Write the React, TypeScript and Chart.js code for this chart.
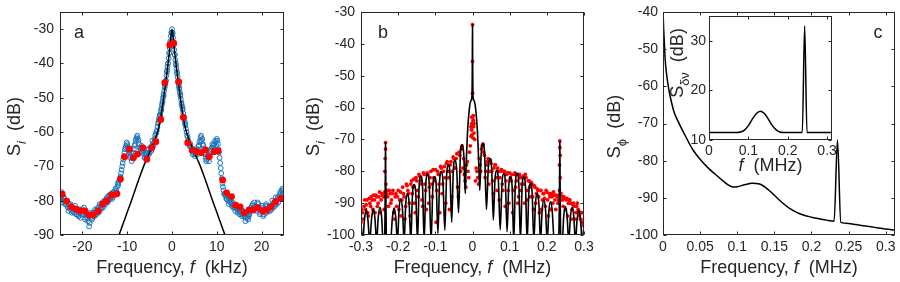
import React, { useEffect, useRef } from "react";
import { Chart, registerables } from "chart.js";
Chart.register(...registerables);

// ---------------- Panel a (kHz, dB) ----------------
const A_X_TICKS = [-20, -10, 0, 10, 20];
const A_Y_TICKS = [-90, -80, -70, -60, -50, -40, -30];
const A_BLUE_F_STEP = 0.25;
const A_BLUE1_F_START = -25;
const A_BLUE1_DB = [
  -78, -79, -78.5, -80, -79.5, -81, -80, -82, -81, -82.5, -81.5, -83, -82, -83.5, -82.5, -84,
  -83, -84.5, -83, -84, -82.5, -84, -83, -85, -84, -86, -87.5, -85, -84, -85, -83.5, -84.5,
  -83, -83.5, -82, -83, -81.5, -82, -80.5, -81.5, -80, -80.5, -79, -80, -78.5, -79, -78, -79,
  -77.5, -78, -77, -76, -75.5, -74, -73, -71, -69, -67, -65, -64, -63.5, -64.5, -66, -67,
  -68.5, -67, -65, -63.5, -62, -61, -62.5, -64.5, -65, -64, -65.5, -66.5, -67.5, -66.5, -66, -65,
  -66, -65, -64, -63.5, -63, -61, -60, -58.5, -57, -55, -54, -52, -50, -48, -46, -43.5,
  -41, -38.5, -35.5, -32, -30, -32.5, -36, -39, -41.5, -44, -46.5, -48.5, -50.5, -52.5, -54.5, -56,
  -58, -60, -61.5, -63, -64, -64.5, -65, -66, -65.5, -66.5, -65.5, -65, -64, -62.5, -61, -62,
  -64, -66, -67.5, -68, -67, -68.5, -66.5, -65, -63.5, -64, -65, -63, -62, -63.5, -66, -69,
  -72, -75, -77, -78, -78.5, -79.5, -80, -79.5, -80.5, -81, -80.5, -81.5, -82, -81.5, -82.5, -83,
  -82.5, -83.5, -83, -84, -83.5, -84.5, -85, -84, -85.5, -84, -83, -82.5, -81, -82, -81.5, -83,
  -82, -81, -82.5, -83.5, -82, -83, -84, -82.5, -81, -82.5, -83, -82, -81.5, -82.5, -81, -80.5,
  -81.5, -80, -79.5, -80.5, -78.5, -78, -77, -78, -77,
];
const A_BLUE2_F_START = -24.875;
const A_BLUE2_DB = [
  -79.5, -77.5, -80.5, -79, -81, -80, -81.5, -83, -82, -81, -83.5, -82, -83.5, -81.5, -84, -82.5,
  -84.5, -82.5, -85, -83.5, -84, -82, -85.5, -83.5, -85, -84.5, -86.5, -83.5, -85.5, -83.5, -84, -82.5,
  -84, -82.5, -83.5, -81, -82.5, -81, -82, -80, -81, -79.5, -80.5, -78.5, -79.5, -78, -79.5, -77.5,
  -78.5, -76.5, -77.5, -75, -74.5, -73.5, -72, -70, -68, -66, -64.5, -63, -64.5, -65.5, -67.5, -66,
  -67.5, -66, -64, -62.5, -61.5, -62, -63.5, -66, -64.5, -66, -64.5, -67.5, -66, -67.5, -65, -66.5,
  -64.5, -65.5, -62.5, -64, -62, -60.5, -59.5, -57.5, -56, -55.5, -53, -51, -49, -47, -45, -42.5,
  -40, -37, -33.5, -31, -31, -34, -37.5, -40, -43, -45, -47.5, -49.5, -51.5, -53.5, -55.5, -57,
  -59, -61, -62.5, -64, -63.5, -65.5, -66.5, -65, -67, -66, -66.5, -64, -63, -61.5, -62.5, -63.5,
  -65, -66.5, -68.5, -67, -67.5, -67, -65.5, -64.5, -64.5, -63.5, -62.5, -64, -62.5, -65, -67.5, -70.5,
  -73.5, -76, -78, -78.5, -79.5, -78.5, -81, -80, -79.5, -81.5, -82, -81, -83, -82, -83.5, -82,
  -84, -82.5, -84.5, -83, -84.5, -86, -83.5, -85, -84.5, -83.5, -82, -81.5, -82.5, -80.5, -82.5, -82,
  -80.5, -82, -84, -82.5, -81.5, -84.5, -83.5, -81.5, -83.5, -81.5, -82, -83, -82, -80, -82, -81,
  -79, -81, -79, -79.5, -77.5, -79, -76.5, -77,
];
const A_BLUE_PEAK_F_START = -2.875;
const A_BLUE_PEAK_DB = [
  -56.5, -55, -53.5, -51.5, -49.5, -46.5, -45, -42, -40, -37, -34, -31,
  -31.5, -34.5, -37.5, -40.5, -42.5, -45.5, -47, -49, -52, -53, -55.5, -57.5,
];
const A_RED_F = [
  -24.5, -23.5, -22.5, -21.4, -20.5, -19.4, -18.5, -17.6, -16.5, -15.5, -14.6, -13.5, -12.3,
  -11.5, -10.6, -9.5, -8.6, -7.7, -6.5, -5.6, -4.5, -3.6, -2.5, -1.6, -0.5, 0.4, 1.5, 2.5, 3.5,
  4.5, 5.5, 6.5, 7.5, 8.3, 9.4, 10.3, 11.3, 12.2, 13.3, 14.2, 15.2, 16.1, 17.2, 18.1, 19.1, 20.2,
  21.1, 22.1, 23.1, 24.3,
];
const A_RED_DB = [
  -78.1, -80.1, -81.8, -82.5, -83, -83, -84.2, -84.2, -83, -81, -80, -78.4, -78,
  -73.7, -67.2, -65, -67.5, -66.4, -64.6, -67.9, -64.6, -62.8, -56.3, -45.6, -34.6, -34.1, -45.4, -55.7, -63.1,
  -65.2, -65.7, -66, -65.2, -67.2, -65.7, -65.5, -74, -77.7, -78.8, -81.3, -81.8, -83.5, -82.7, -82.7, -82, -83,
  -82.7, -81.8, -80.3, -79.3,
];
const A_FIT_F = [-12.2, -11, -10, -9, -8, -7, -6, -5, -4, -3, -2.5, -2, -1.5, -1, -0.5, 0, 0.5, 1, 1.5, 2, 2.5, 3, 4, 5, 6, 7, 8, 9, 10, 11, 12.2];
const A_FIT_DB = [-91.4, -87, -83.4, -79.8, -76, -72.3, -68.9, -66, -62.8, -58.9, -55.5, -51.3, -46.4, -41.3, -35.7, -30, -35.7, -41.3, -46.4, -51.3, -55.5, -58.9, -62.8, -66, -68.9, -72.3, -76, -79.8, -83.4, -87, -91.4];

// ---------------- Panel b (MHz, dB) ----------------
const B_X_TICKS = [-0.3, -0.2, -0.1, 0, 0.1, 0.2, 0.3];
const B_Y_TICKS = [-100, -90, -80, -70, -60, -50, -40, -30];
const B_RED1_F_START = -0.3;
const B_RED2_F_START = -0.298;
const B_RED_F_STEP = 0.004;
const B_RED1_DB = [
  -96, -93, -91, -92, -89, -94, -90, -88, -92, -89,
  -87.5, -91, -88, -93, -87, -88, -86.5, -87, -88, -86,
  -90, -87, -93, -88, -91, -86, -89, -94, -85, -88,
  -91, -84.5, -87, -94, -83, -85, -90, -82, -86, -81,
  -83, -89, -80.5, -84, -92, -81, -85, -80, -88, -82,
  -79.5, -86, -81, -93, -79, -84, -78.5, -90, -77, -82,
  -78, -88, -75.5, -79, -76, -85, -74, -80, -72, -76,
  -83, -78, -80, -74, -66, -63, -65, -83, -80, -84,
  -78, -73, -71.5, -75, -80, -77, -84, -76.5, -80, -87,
  -78, -82, -79, -89, -80, -84, -80, -91, -81, -86,
  -80.5, -83, -93, -81, -85, -81, -88, -82, -84, -81.5,
  -90, -82, -86, -83, -88, -84, -92, -85, -87, -86,
  -93, -86, -89, -87, -91, -86.5, -94, -88, -87, -90,
  -87.5, -92, -88, -89, -87, -88, -91, -88.5, -89, -94,
  -89, -90, -92, -90, -95, -91, -92, -94, -93, -96,
  -95,
];
const B_RED2_DB = [
  -92, -95, -89, -90.5, -93, -88.5, -91, -89, -87.5, -93,
  -88, -90, -86.5, -89, -87.5, -92, -88, -86, -91, -87,
  -89, -86, -95, -87, -88, -92, -86.5, -89, -87, -95,
  -84, -86, -90, -84, -87, -82.5, -93, -83, -88, -81.5,
  -84, -91, -81, -86, -80.5, -90, -82, -84, -79.5, -83,
  -96, -80, -84, -78.5, -87, -80, -82, -77.5, -80, -92,
  -77, -80, -76, -79, -74.5, -88, -75, -73, -79, -81,
  -85, -77, -82, -72, -67, -64, -70, -79, -82, -76,
  -80, -72, -74, -82, -78, -76, -80, -77.5, -83, -79,
  -78, -86, -80, -82, -79.5, -86, -80, -83, -80.5, -90,
  -82, -81, -86, -80.5, -83, -90, -81, -86, -82, -84,
  -81, -89, -83, -85, -83.5, -88, -84.5, -90, -85.5, -88,
  -86, -92, -87, -88.5, -86, -89, -87, -92, -88, -86.5,
  -89, -87.5, -90, -88, -87, -89, -88, -92, -88.5, -90,
  -89, -95, -90.5, -91, -93, -90, -92.5, -95, -93, -97,
];
const B_RED_EXTRA_F = [0, 0, 0, -0.002, 0.002, -0.003, 0.003, -0.001, 0.001, -0.002, 0.002, 0.004, -0.004, -0.234, -0.234, -0.235, -0.236, -0.233, 0.235, 0.235, 0.236, 0.234, 0.236, 0.234];
const B_RED_EXTRA_DB = [-34, -45.5, -55.5, -63, -64, -67, -66, -68.5, -69.5, -65, -62.5, -68, -69, -71, -73, -76, -80, -84, -70.5, -72.5, -75, -78, -82, -86];
const B_FIT_F = [
  -0.3, -0.2955,
  -0.2905, -0.286, -0.2815, -0.2765,
  -0.2715, -0.267, -0.2625, -0.258,
  -0.2535, -0.249, -0.2445, -0.2405,
  -0.236, -0.2345, -0.234, -0.2335, -0.232,
  -0.2205,
  -0.2155, -0.211, -0.2065, -0.202,
  -0.1975, -0.193, -0.1885, -0.184,
  -0.1795, -0.175, -0.1705, -0.166,
  -0.1615, -0.157, -0.1525, -0.148,
  -0.1435, -0.139, -0.1345, -0.13,
  -0.1255, -0.121, -0.1165, -0.1115,
  -0.1065, -0.102, -0.0975, -0.093,
  -0.0885, -0.084, -0.0795, -0.0745,
  -0.0695, -0.065, -0.0605, -0.056,
  -0.0515, -0.047, -0.0425, -0.0375,
  -0.0325, -0.028, -0.0235, -0.0195,
  -0.017, -0.013, -0.009, -0.005, -0.0015, -0.0004, 0, 0.0004, 0.0015, 0.005, 0.009, 0.013, 0.017, 0.0195,
  0.0235, 0.028, 0.0325, 0.0375,
  0.0425, 0.047, 0.0515, 0.056,
  0.0605, 0.065, 0.0695, 0.0745,
  0.0795, 0.084, 0.0885, 0.093,
  0.0975, 0.102, 0.1065, 0.111,
  0.1155, 0.12, 0.1245, 0.129,
  0.1335, 0.138, 0.1425, 0.147,
  0.1515, 0.156, 0.1605, 0.165,
  0.1695, 0.174, 0.1785, 0.183,
  0.1875, 0.192, 0.1965, 0.201,
  0.2055, 0.21, 0.2145, 0.22,
  0.232, 0.2345, 0.235, 0.2355, 0.237, 0.2415,
  0.2455, 0.25, 0.2545, 0.259,
  0.2635, 0.268, 0.2725, 0.277,
  0.2815, 0.286, 0.2905, 0.2955, 0.3,
];
const B_FIT_DB = [
  -96, -102,
  -95, -92, -95, -102,
  -94.8, -91.8, -94.8, -102,
  -94.3, -91.3, -94.3, -102,
  -100, -80, -71, -80, -100,
  -102,
  -94.5, -91.5, -94.5, -102,
  -91.8, -88.8, -91.8, -102,
  -90, -87, -90, -102,
  -87.2, -84.2, -87.2, -102,
  -84.5, -81.5, -84.5, -102,
  -83.9, -80.9, -83.9, -102,
  -84.7, -81.7, -84.7, -99.5,
  -83.1, -80.1, -83.1, -98.5,
  -81, -78, -81, -96,
  -79.5, -76.5, -79.5, -93,
  -74.7, -71.7, -74.7, -87,
  -78, -67, -61, -58, -56.5, -45, -34, -45, -56.5, -58, -61, -67, -78, -86,
  -74.2, -71.2, -74.2, -92,
  -79, -76, -79, -95.3,
  -82.6, -79.6, -82.6, -98.4,
  -83.6, -80.6, -83.6, -99,
  -84.7, -81.7, -84.7, -102,
  -83.6, -80.6, -83.6, -102,
  -84.7, -81.7, -84.7, -102,
  -86.8, -83.8, -86.8, -102,
  -89.9, -86.9, -89.9, -102,
  -92, -89, -92, -102,
  -92.5, -89.5, -92.5, -102,
  -100, -80, -70.7, -80, -100, -102,
  -94.1, -91.1, -94.1, -102,
  -94.3, -91.3, -94.3, -102,
  -95.1, -92.1, -95.1, -102, -97,
];

// ---------------- Panel c (MHz, dB) ----------------
const C_X_TICKS = [0, 0.05, 0.1, 0.15, 0.2, 0.25, 0.3];
const C_Y_TICKS = [-100, -90, -80, -70, -60, -50, -40];
const C_F = [0, 0.001, 0.002, 0.003, 0.005, 0.0075, 0.01, 0.015, 0.02, 0.03, 0.04, 0.05, 0.06, 0.07, 0.08, 0.09, 0.095, 0.1, 0.11, 0.12, 0.13, 0.14, 0.15, 0.16, 0.17, 0.18, 0.19, 0.2, 0.21, 0.22, 0.2305, 0.235, 0.2395, 0.25, 0.26, 0.27, 0.28, 0.29, 0.3, 0.3125];
const C_DB = [-40, -45, -49, -53, -57, -60.5, -63, -67, -69.3, -73.3, -77, -79.6, -81.8, -83.6, -85.3, -86.8, -87.1, -87, -86.5, -86.1, -86.3, -87.5, -89.3, -91.2, -92.8, -93.9, -94.7, -95.2, -95.6, -96, -96.3, -74.4, -96.6, -96.9, -97.2, -97.5, -97.8, -98.1, -98.4, -98.7];
const INSET_X_TICKS = [0, 0.1, 0.2, 0.3];
const INSET_Y_TICKS = [10, 20, 30];
const INSET_F = [0, 0.07, 0.08, 0.09, 0.1, 0.11, 0.12, 0.13, 0.14, 0.15, 0.16, 0.17, 0.18, 0.19, 0.237, 0.243, 0.249, 0.3125];
const INSET_DB = [11.5, 11.5, 11.6, 12.0, 12.9, 14.2, 15.3, 15.8, 15.4, 14.3, 13.0, 12.1, 11.6, 11.5, 11.5, 33, 11.5, 11.5];

// ---------------- helpers ----------------
const FONT = "'Liberation Sans', Arial, Helvetica, sans-serif";
const INK = "#262626";
const W = 900;
const H = 282;

type Part = { t: string; it?: boolean; sub?: boolean };

const pairs = (f: number[], db: number[]) => f.map((x, i) => ({ x, y: db[i] }));
const gridPts = (start: number, step: number, db: number[]) => db.map((y, i) => ({ x: start + i * step, y }));
const fmt = (v: number) => String(Math.round(v * 1000) / 1000);

function drawParts(ctx: CanvasRenderingContext2D, parts: Part[], cx: number, cy: number, size: number, rotate: boolean) {
  ctx.save();
  ctx.translate(cx, cy);
  if (rotate) ctx.rotate(-Math.PI / 2);
  const fontFor = (p: Part) => `${p.it ? "italic " : ""}${p.sub ? Math.round(size * 0.72) : size}px ${FONT}`;
  let total = 0;
  const widths = parts.map((p) => {
    ctx.font = fontFor(p);
    const w = ctx.measureText(p.t).width;
    total += w;
    return w;
  });
  let x = -total / 2;
  ctx.fillStyle = INK;
  ctx.textBaseline = "alphabetic";
  ctx.textAlign = "left";
  parts.forEach((p, i) => {
    ctx.font = fontFor(p);
    ctx.fillText(p.t, x, size * 0.36 + (p.sub ? size * 0.28 : 0));
    x += widths[i];
  });
  ctx.restore();
}

interface Spec {
  area: { l: number; r: number; t: number; b: number };
  x: [number, number];
  y: [number, number];
  xTicks: number[];
  yTicks: number[];
  datasets: any[];
  xTitle: Part[];
  yTitle: Part[];
  xTitleOff: [number, number];
  yTitleOff: [number, number];
  letter?: { t: string; dx: number; dy: number; right?: boolean };
  fillBg?: boolean;
  tickPadX: number;
  tickPadY: number;
}

function makeDecor(spec: Spec) {
  return {
    id: "decor",
    beforeDatasetsDraw(chart: any) {
      if (!spec.fillBg) return;
      const a = chart.chartArea;
      const ctx = chart.ctx;
      ctx.save();
      ctx.fillStyle = "#ffffff";
      ctx.fillRect(a.left, a.top, a.right - a.left, a.bottom - a.top);
      ctx.restore();
    },
    afterDatasetsDraw(chart: any) {
      const { ctx, chartArea: a, scales } = chart;
      const L = Math.round(a.left) + 0.5;
      const R = Math.round(a.right) - 0.5;
      const T = Math.round(a.top) + 0.5;
      const B = Math.round(a.bottom) - 0.5;
      ctx.save();
      ctx.strokeStyle = INK;
      ctx.lineWidth = 1;
      ctx.strokeRect(L, T, R - L, B - T);
      const tl = 3;
      ctx.beginPath();
      scales.x.ticks.forEach((t: any) => {
        const px = Math.round(scales.x.getPixelForValue(t.value)) + 0.5;
        ctx.moveTo(px, B);
        ctx.lineTo(px, B - tl);
        ctx.moveTo(px, T);
        ctx.lineTo(px, T + tl);
      });
      scales.y.ticks.forEach((t: any) => {
        const py = Math.round(scales.y.getPixelForValue(t.value)) + 0.5;
        ctx.moveTo(L, py);
        ctx.lineTo(L + tl, py);
        ctx.moveTo(R, py);
        ctx.lineTo(R - tl, py);
      });
      ctx.stroke();
      ctx.restore();
      drawParts(ctx, spec.xTitle, (a.left + a.right) / 2 + spec.xTitleOff[0], a.bottom + spec.xTitleOff[1], 18, false);
      drawParts(ctx, spec.yTitle, a.left - spec.yTitleOff[0], (a.top + a.bottom) / 2 + spec.yTitleOff[1], 18, true);
      if (spec.letter) {
        const lt = spec.letter;
        ctx.save();
        ctx.font = `18px ${FONT}`;
        ctx.fillStyle = INK;
        ctx.textAlign = "center";
        ctx.textBaseline = "middle";
        ctx.fillText(lt.t, lt.right ? a.right - lt.dx : a.left + lt.dx, a.top + lt.dy);
        ctx.restore();
      }
    },
  };
}

function buildConfig(spec: Spec): any {
  const yW = 50;
  const xH = 40;
  const tickFont = { family: FONT, size: 14 };
  return {
    type: "scatter",
    data: { datasets: spec.datasets },
    plugins: [makeDecor(spec)],
    options: {
      responsive: false,
      animation: false,
      devicePixelRatio: 1,
      events: [],
      layout: {
        padding: {
          left: spec.area.l - yW,
          right: W - spec.area.r,
          top: spec.area.t,
          bottom: H - spec.area.b - xH,
        },
      },
      plugins: { legend: { display: false }, tooltip: { enabled: false }, title: { display: false } },
      scales: {
        x: {
          type: "linear",
          position: "bottom",
          min: spec.x[0],
          max: spec.x[1],
          grid: { display: false, drawTicks: false },
          border: { display: false },
          afterBuildTicks: (s: any) => {
            s.ticks = spec.xTicks.map((v) => ({ value: v }));
          },
          afterFit: (s: any) => {
            s.height = xH;
            s.paddingLeft = 0;
            s.paddingRight = 0;
            s.paddingTop = 0;
            s.paddingBottom = 0;
          },
          ticks: {
            autoSkip: false,
            maxRotation: 0,
            minRotation: 0,
            padding: spec.tickPadX,
            color: INK,
            font: tickFont,
            callback: (v: number) => fmt(v),
          },
        },
        y: {
          type: "linear",
          position: "left",
          min: spec.y[0],
          max: spec.y[1],
          grid: { display: false, drawTicks: false },
          border: { display: false },
          afterBuildTicks: (s: any) => {
            s.ticks = spec.yTicks.map((v) => ({ value: v }));
          },
          afterFit: (s: any) => {
            s.width = yW;
            s.paddingLeft = 0;
            s.paddingRight = 0;
            s.paddingTop = 0;
            s.paddingBottom = 0;
          },
          ticks: {
            autoSkip: false,
            padding: spec.tickPadY,
            color: INK,
            font: tickFont,
            callback: (v: number) => fmt(v),
          },
        },
      },
    },
  };
}

const lineDs = (data: any[], width: number, order: number) => ({
  data,
  showLine: true,
  pointRadius: 0,
  borderColor: "#000000",
  borderWidth: width,
  cubicInterpolationMode: "monotone",
  order,
});

const blueDs = (data: any[], order: number) => ({
  data,
  pointRadius: 2.4,
  pointBackgroundColor: "rgba(0,0,0,0)",
  pointBorderColor: "#1a74bd",
  pointBorderWidth: 1,
  order,
});

const redDs = (data: any[], r: number, order: number) => ({
  data,
  pointRadius: r,
  pointBackgroundColor: "#ff0000",
  pointBorderWidth: 0,
  order,
});

const SI_Y: Part[] = [{ t: "S" }, { t: "i", it: true, sub: true }, { t: "  (dB)" }];

const SPECS: Spec[] = [
  {
    area: { l: 60, r: 284, t: 12, b: 235 },
    x: [-25, 25],
    y: [-90, -25],
    xTicks: A_X_TICKS,
    yTicks: A_Y_TICKS,
    datasets: [
      redDs(pairs(A_RED_F, A_RED_DB), 3.4, 0),
      lineDs(pairs(A_FIT_F, A_FIT_DB), 1.5, 1),
      blueDs(gridPts(A_BLUE_PEAK_F_START, A_BLUE_F_STEP, A_BLUE_PEAK_DB), 2),
      blueDs(gridPts(A_BLUE1_F_START, A_BLUE_F_STEP, A_BLUE1_DB), 3),
      blueDs(gridPts(A_BLUE2_F_START, A_BLUE_F_STEP, A_BLUE2_DB), 4),
    ],
    xTitle: [{ t: "Frequency, " }, { t: "f", it: true }, { t: "  (kHz)" }],
    yTitle: SI_Y,
    xTitleOff: [0, 32],
    yTitleOff: [46, 3],
    letter: { t: "a", dx: 19, dy: 21 },
    tickPadX: 4,
    tickPadY: 6,
  },
  {
    area: { l: 361, r: 584, t: 12, b: 235 },
    x: [-0.3, 0.3],
    y: [-100, -30],
    xTicks: B_X_TICKS,
    yTicks: B_Y_TICKS,
    datasets: [
      lineDs(pairs(B_FIT_F, B_FIT_DB), 1.6, 0),
      redDs(gridPts(B_RED1_F_START, B_RED_F_STEP, B_RED1_DB), 1.9, 1),
      redDs(gridPts(B_RED2_F_START, B_RED_F_STEP, B_RED2_DB), 1.9, 2),
      redDs(pairs(B_RED_EXTRA_F, B_RED_EXTRA_DB), 1.9, 3),
    ],
    xTitle: [{ t: "Frequency, " }, { t: "f", it: true }, { t: "  (MHz)" }],
    yTitle: SI_Y,
    xTitleOff: [0, 32],
    yTitleOff: [48, 3],
    letter: { t: "b", dx: 22, dy: 21 },
    tickPadX: 4,
    tickPadY: 6,
  },
  {
    area: { l: 663, r: 895, t: 12, b: 235 },
    x: [0, 0.3125],
    y: [-100, -40],
    xTicks: C_X_TICKS,
    yTicks: C_Y_TICKS,
    datasets: [lineDs(pairs(C_F, C_DB), 1.5, 0)],
    xTitle: [{ t: "Frequency, " }, { t: "f", it: true }, { t: "  (MHz)" }],
    yTitle: [{ t: "S" }, { t: "\u03d5", sub: true }, { t: "  (dB)" }],
    xTitleOff: [0, 32],
    yTitleOff: [49, 3],
    letter: { t: "c", dx: 17, dy: 21, right: true },
    tickPadX: 4,
    tickPadY: 5,
  },
  {
    area: { l: 709, r: 832, t: 16, b: 140 },
    x: [0, 0.3125],
    y: [10, 35],
    xTicks: INSET_X_TICKS,
    yTicks: INSET_Y_TICKS,
    datasets: [lineDs(pairs(INSET_F, INSET_DB), 1.5, 0)],
    xTitle: [{ t: "f", it: true }, { t: "  (MHz)" }],
    yTitle: [{ t: "S" }, { t: "\u03b4\u03bd", sub: true }, { t: "  (dB)" }],
    xTitleOff: [0, 25],
    yTitleOff: [32, -15],
    fillBg: true,
    tickPadX: 3,
    tickPadY: 3,
  },
];

export default function App() {
  const canvases = useRef<(HTMLCanvasElement | null)[]>([]);
  useEffect(() => {
    const charts = SPECS.map((spec, i) => new Chart(canvases.current[i] as HTMLCanvasElement, buildConfig(spec)));
    return () => charts.forEach((c) => c.destroy());
  }, []);
  return (
    <div style={{ position: "fixed", left: 0, top: 0, width: W, height: H, background: "#ffffff", overflow: "hidden" }}>
      {SPECS.map((_, i) => (
        <canvas
          key={i}
          ref={(el) => {
            canvases.current[i] = el;
          }}
          width={W}
          height={H}
          style={{ position: "absolute", left: 0, top: 0, width: W, height: H }}
        />
      ))}
    </div>
  );
}
